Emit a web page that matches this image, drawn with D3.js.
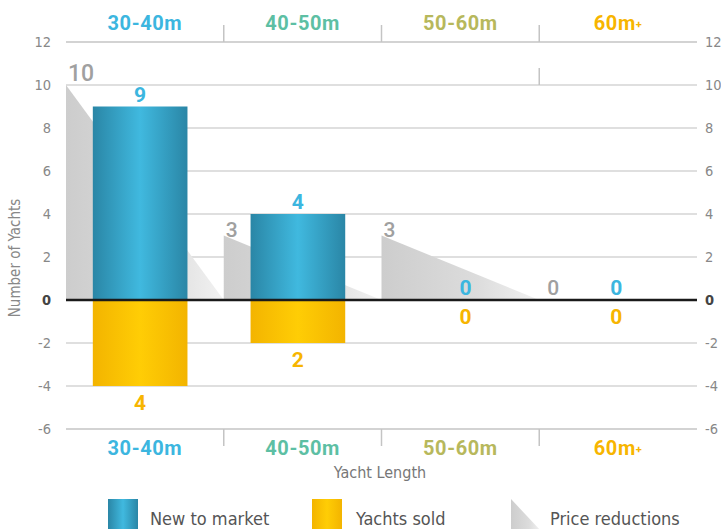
<!DOCTYPE html>
<html><head><meta charset="utf-8">
<script src="https://cdn.jsdelivr.net/npm/d3@7"></script>
<style>
body{margin:0;background:#fff;}
svg{display:block;}
.thin{font-family:"Liberation Sans Narrow","DejaVu Sans Condensed",sans-serif;}
.bold{font-family:Roboto,"DejaVu Sans",sans-serif;font-weight:700;}
</style></head>
<body>
<svg id="c" width="721" height="529"></svg>
<script>
const categories = ["30-40m","40-50m","50-60m","60m+"];
const categoryColors = ["#3cb6df","#5dbfa4","#b7b85c","#f7b500"];
const newToMarket = [9,4,0,0];
const yachtsSold = [4,2,0,0];
const priceReductions = [10,3,3,0];
const yTicks = [12,10,8,6,4,2,0,-2,-4,-6];

const svg = d3.select("#c");
const left = 66, right = 697;
const x = d3.scaleBand().domain(categories).range([left,right]).padding(0);
const y = d3.scaleLinear().domain([-6,12]).range([429,42]);
const bw = x.bandwidth();
const barX = c => x(c) + bw*0.17;
const barW = bw*0.6;

const defs = svg.append("defs");
function hgrad(id, stops){
  const g = defs.append("linearGradient").attr("id",id).attr("x1","0").attr("x2","1").attr("y1","0").attr("y2","0");
  stops.forEach(s=>g.append("stop").attr("offset",s[0]).attr("stop-color",s[1]));
}
hgrad("gBlue",[[0,"#2a86a6"],[0.5,"#40b9df"],[1,"#2a86a6"]]);
hgrad("gYellow",[[0,"#f3b400"],[0.5,"#ffcd05"],[1,"#f3b400"]]);
hgrad("gGrey",[[0,"#cdcdcd"],[0.6,"#dcdcdc"],[1,"#f2f2f2"]]);

// gridlines
svg.append("g").selectAll("line").data(yTicks.filter(d=>d!==0)).join("line")
  .attr("x1",left).attr("x2",right).attr("y1",d=>y(d)).attr("y2",d=>y(d))
  .attr("stroke",d=>(d===12||d===-6)?"#c4c4c4":"#d4d4d4").attr("stroke-width",1.5);

// small mark near 10
svg.append("line").attr("x1",x(categories[3])).attr("x2",x(categories[3]))
  .attr("y1",y(10)-17).attr("y2",y(10)).attr("stroke","#c4c4c4").attr("stroke-width",1.5);

// top & bottom category ticks
categories.slice(1).forEach(c=>{
  svg.append("line").attr("x1",x(c)).attr("x2",x(c)).attr("y1",y(12)-17).attr("y2",y(12)).attr("stroke","#c4c4c4").attr("stroke-width",1.5);
  svg.append("line").attr("x1",x(c)).attr("x2",x(c)).attr("y1",y(-6)).attr("y2",y(-6)+17).attr("stroke","#c4c4c4").attr("stroke-width",1.5);
});

// price reduction triangles
svg.append("g").selectAll("path").data(categories).join("path")
  .attr("d",(c,i)=>{
    const v = priceReductions[i]; if(!v) return null;
    const x0 = x(c), x1 = x(c)+bw;
    return `M${x0},${y(0)}L${x0},${y(v)}L${x1},${y(0)}Z`;
  })
  .attr("fill","url(#gGrey)");

// bars
svg.append("g").selectAll("rect").data(categories).join("rect")
  .attr("x",c=>barX(c)).attr("width",barW)
  .attr("y",(c,i)=>y(newToMarket[i])).attr("height",(c,i)=>y(0)-y(newToMarket[i]))
  .attr("fill","url(#gBlue)");
svg.append("g").selectAll("rect").data(categories).join("rect")
  .attr("x",c=>barX(c)).attr("width",barW)
  .attr("y",y(0)).attr("height",(c,i)=>y(-yachtsSold[i])-y(0))
  .attr("fill","url(#gYellow)");

// zero line
svg.append("line").attr("x1",left).attr("x2",right).attr("y1",y(0)).attr("y2",y(0))
  .attr("stroke","#1a1a1a").attr("stroke-width",2.5);

// value labels
const lblShift = c => (c==="50-60m"?10:(c==="60m+"?3:0));
svg.append("g").selectAll("text").data(categories).join("text").attr("class","bold")
  .attr("x",c=>barX(c)+barW/2+lblShift(c)).attr("y",(c,i)=>y(newToMarket[i])-5)
  .attr("text-anchor","middle").attr("font-size",21).attr("fill","#3cb6df")
  .text((c,i)=>newToMarket[i]);
svg.append("g").selectAll("text").data(categories).join("text").attr("class","bold")
  .attr("x",c=>barX(c)+barW/2+lblShift(c)).attr("y",(c,i)=>y(-yachtsSold[i])+24)
  .attr("text-anchor","middle").attr("font-size",21).attr("fill","#f7b500")
  .text((c,i)=>yachtsSold[i]);
svg.append("g").selectAll("text").data(categories).join("text")
  .attr("font-family","Roboto,sans-serif").attr("font-weight",500)
  .attr("x",(c,i)=>x(c)+(priceReductions[i]?2:8)).attr("y",(c,i)=>y(priceReductions[i])-(priceReductions[i]>=10?4:(priceReductions[i]?-1:5)))
  .attr("font-size",(c,i)=>priceReductions[i]>=10?23:21).attr("fill","#a0a0a0")
  .text((c,i)=>priceReductions[i]);

// y tick labels
const tl = svg.append("g").attr("class","thin");
tl.selectAll("text.l").data(yTicks).join("text").attr("class","l")
  .attr("x",51).attr("y",d=>y(d)+5).attr("text-anchor","end")
  .attr("font-size",14.5).attr("fill",d=>d===0?"#444":"#888").attr("font-weight",d=>d===0?700:400)
  .text(d=>d);
tl.selectAll("text.r").data(yTicks).join("text").attr("class","r")
  .attr("x",705).attr("y",d=>y(d)+5).attr("text-anchor","start")
  .attr("font-size",14.5).attr("fill",d=>d===0?"#444":"#888").attr("font-weight",d=>d===0?700:400)
  .text(d=>d);

// category labels top & bottom
function catLabels(yy){
  const t = svg.append("g").selectAll("text").data(categories).join("text").attr("class","bold")
    .attr("x",c=>x(c)+bw/2).attr("y",yy).attr("text-anchor","middle")
    .attr("font-size",20).attr("letter-spacing",0.6).attr("fill",(c,i)=>categoryColors[i]);
  t.each(function(c){
    const s = d3.select(this);
    if(c.endsWith("+")){
      s.append("tspan").text(c.slice(0,-1));
      s.append("tspan").attr("font-size",11).attr("dy",-2).text("+");
    } else s.text(c);
  });
}
catLabels(30);
catLabels(455);

// axis titles
svg.append("text").attr("class","thin").attr("x",380).attr("y",478).attr("text-anchor","middle")
  .attr("font-size",16).attr("fill","#777").text("Yacht Length");
svg.append("text").attr("class","thin").attr("transform","translate(20,258) rotate(-90)")
  .attr("text-anchor","middle").attr("font-size",15).attr("fill","#888").text("Number of Yachts");

// legend
const lg = svg.append("g");
lg.append("rect").attr("x",108).attr("y",499).attr("width",30).attr("height",32).attr("fill","url(#gBlue)");
lg.append("text").attr("class","thin").attr("x",150).attr("y",525).attr("font-size",18).attr("fill","#555").text("New to market");
lg.append("rect").attr("x",312).attr("y",499).attr("width",30).attr("height",32).attr("fill","url(#gYellow)");
lg.append("text").attr("class","thin").attr("x",356).attr("y",525).attr("font-size",18).attr("fill","#555").text("Yachts sold");
lg.append("path").attr("d","M511,499L511,531L541,531Z").attr("fill","url(#gGrey)");
lg.append("text").attr("class","thin").attr("x",550).attr("y",525).attr("font-size",18).attr("fill","#555").text("Price reductions");
</script>
</body></html>
